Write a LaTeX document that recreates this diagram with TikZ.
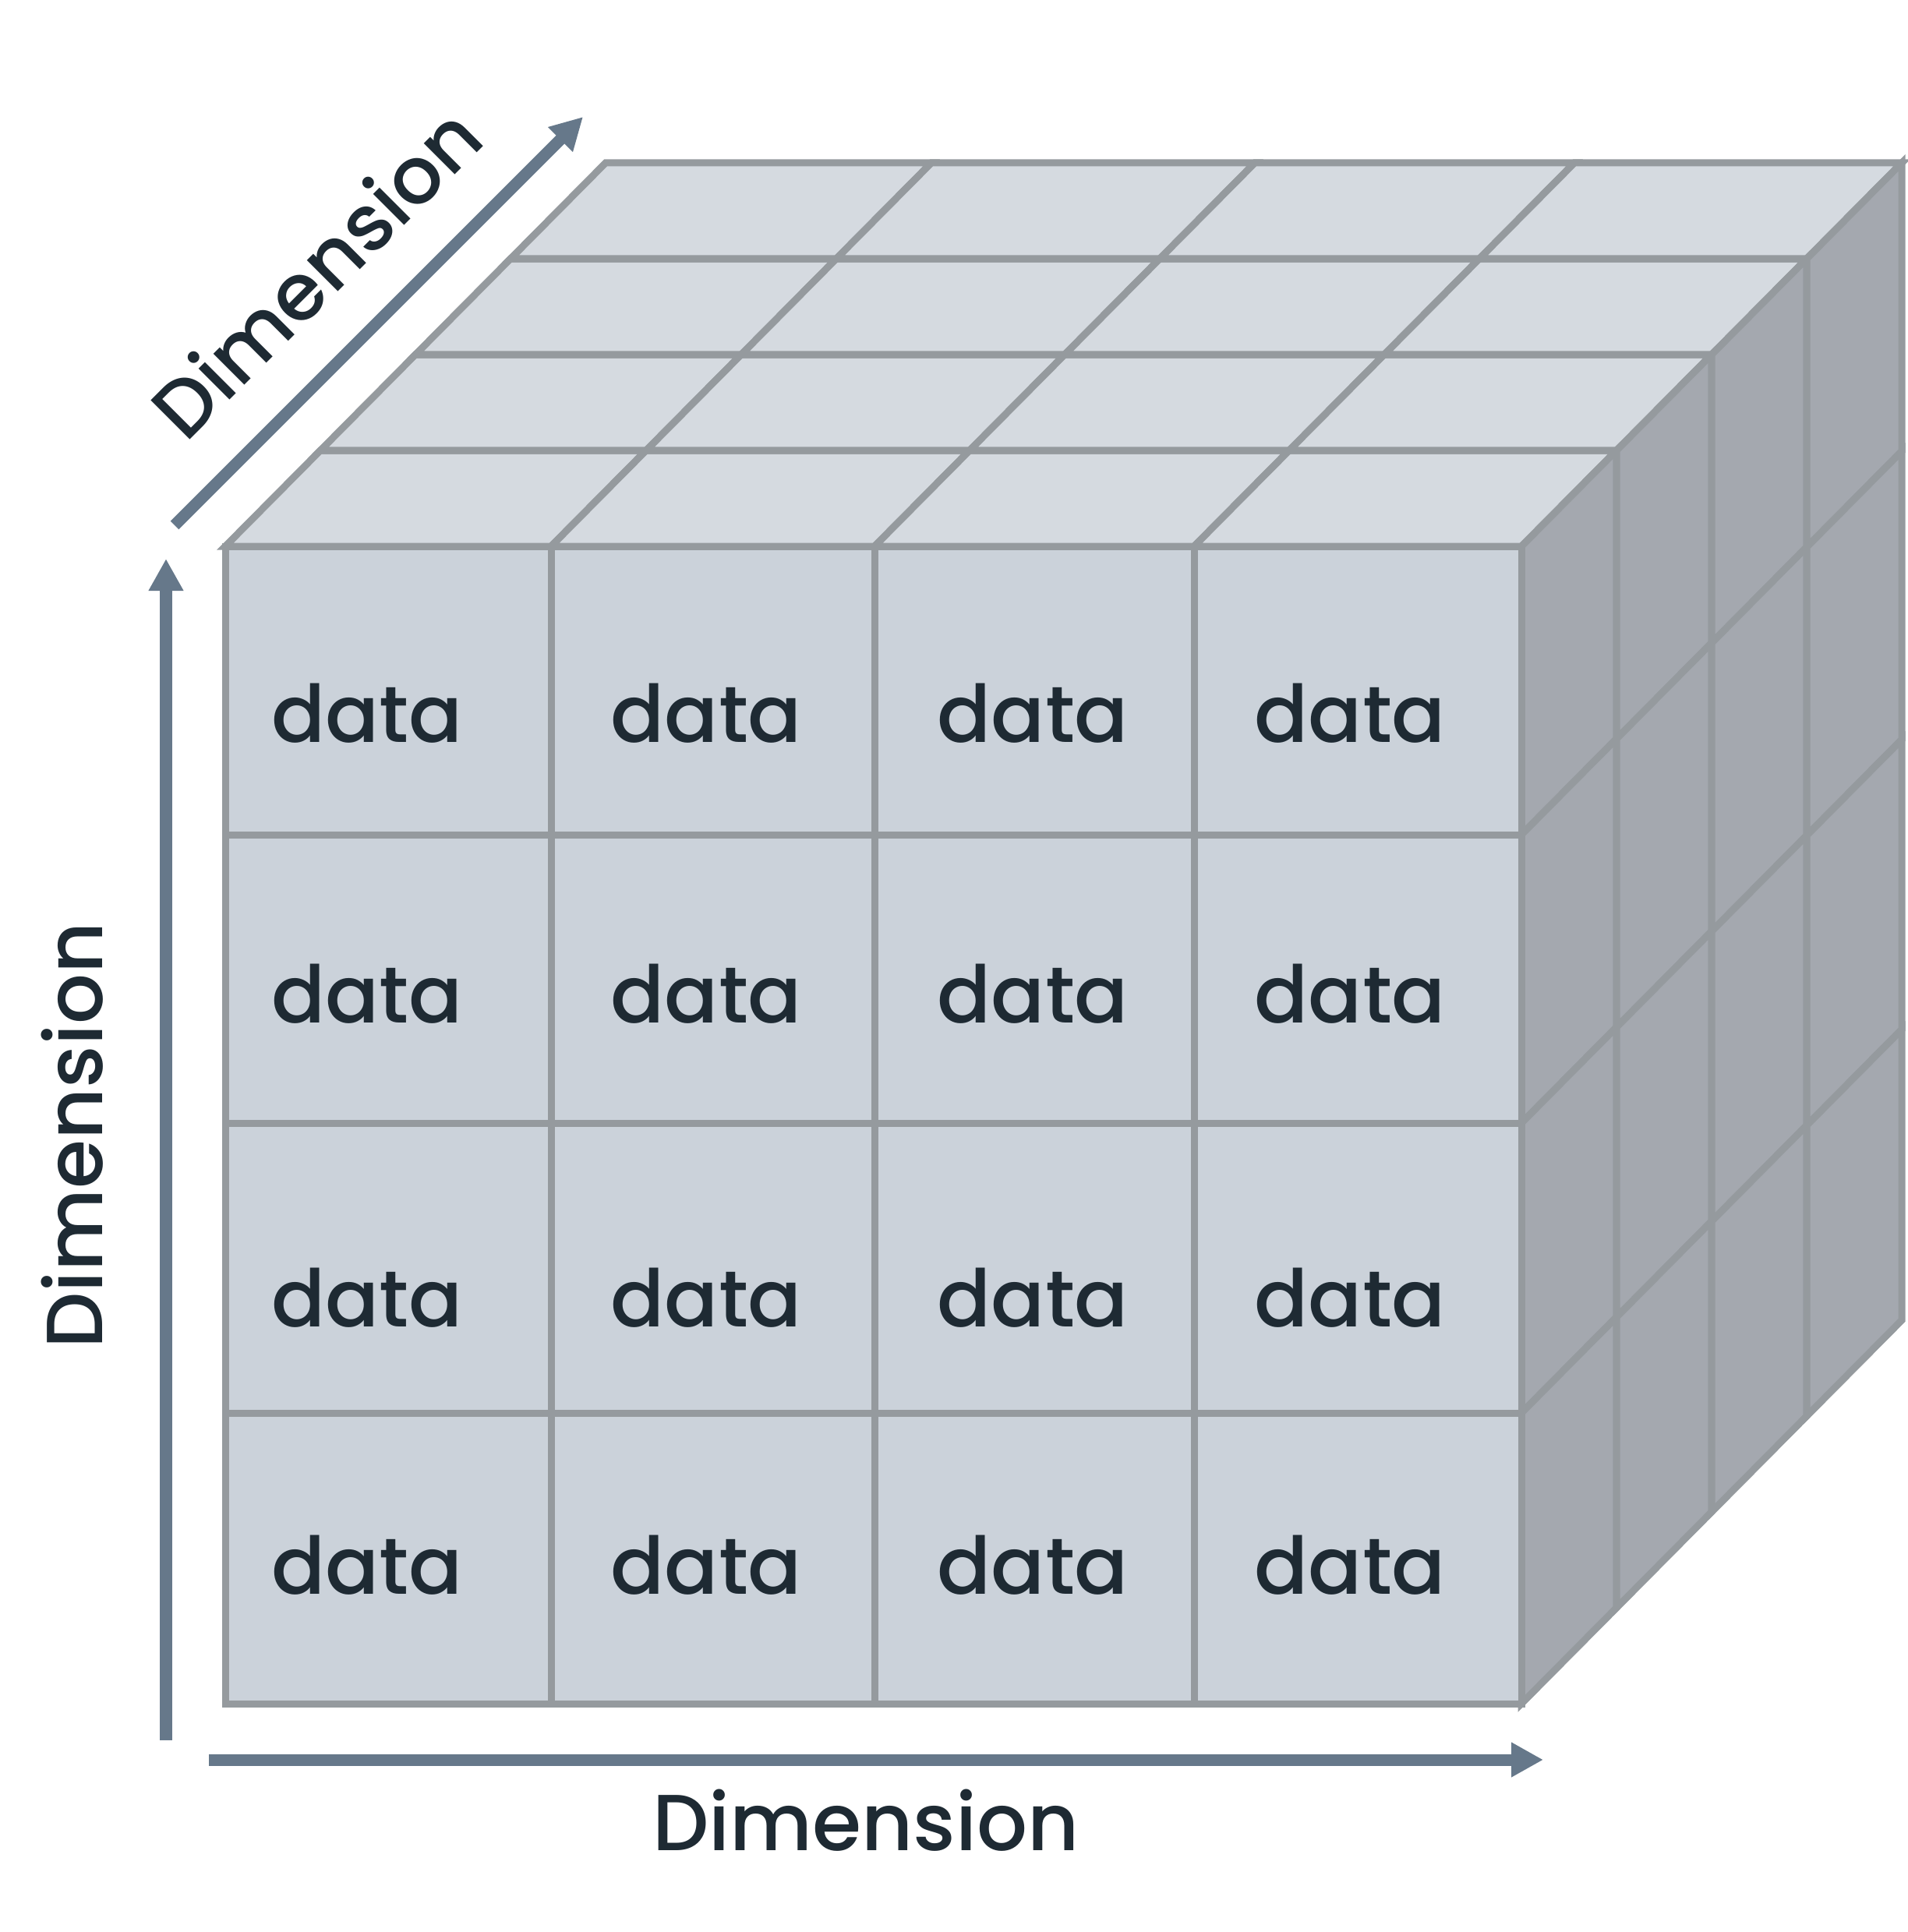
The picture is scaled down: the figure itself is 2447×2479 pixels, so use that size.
\documentclass[tikz,border=0pt]{standalone}
\usepackage{fontspec}
\setmainfont{Poppins Medium}
\usetikzlibrary{arrows.meta}
\definecolor{frontfill}{HTML}{CBD2DA}
\definecolor{topfill}{HTML}{D5DAE0}
\definecolor{sidefill}{HTML}{A4A8AF}
\definecolor{gridline}{HTML}{959A9E}
\definecolor{axiscol}{HTML}{66788A}
\definecolor{txtcol}{HTML}{1E2A33}
\begin{document}
\begin{tikzpicture}[x=0.01cm,y=-0.01cm,
  cellline/.style={draw=gridline,line width=0.09cm,line join=miter},
  topface/.style={cellline,fill=topfill},
  sideface/.style={cellline,fill=sidefill},
  frontface/.style={cellline,fill=frontfill},
  datatext/.style={anchor=base west,inner sep=0pt,text=txtcol,font=\fontsize{29}{35}\selectfont},
  dimlabel/.style={anchor=base,inner sep=0pt,text=txtcol,font=\fontsize{29}{35}\selectfont},
  axis/.style={draw=axiscol,line width=0.15cm,-{Triangle[length=0.41cm,width=0.42cm]}}]
\useasboundingbox (0,0) rectangle (2447,2479);
% top face
\foreach \k in {0,...,3} {
  \foreach \xa/\xb in {289/707,707/1122,1122/1532,1532/1952} {
    \path[topface] ({\xa+122*\k},{701-123*\k}) -- ({\xb+122*\k},{701-123*\k})
      -- ({\xb+122*(\k+1)},{701-123*(\k+1)}) -- ({\xa+122*(\k+1)},{701-123*(\k+1)}) -- cycle;
  }
}
% right side face
\foreach \k in {0,...,3} {
  \foreach \ya/\yb in {701/1071,1071/1441,1441/1813,1813/2186} {
    \path[sideface] ({1952+122*\k},{\ya-123*\k}) -- ({1952+122*(\k+1)},{\ya-123*(\k+1)})
      -- ({1952+122*(\k+1)},{\yb-123*(\k+1)}) -- ({1952+122*\k},{\yb-123*\k}) -- cycle;
  }
}
% front face
\foreach \xa/\xb in {289/707,707/1122,1122/1532,1532/1952} {
  \foreach \ya/\yb in {701/1071,1071/1441,1441/1813,1813/2186} {
    \path[frontface] (\xa,\ya) rectangle (\xb,\yb);
  }
}
% data labels
\foreach \c/\x in {1/348,2/783,3/1202,4/1609} {
  \foreach \r/\y in {1/952,2/1312,3/1702,4/2045} {
    \node[datatext] (d\r\c) at (\x,\y) {data};
  }
}
% axes
\coordinate (yfrom) at (213,2233);
\coordinate (yto) at (213,717);
\coordinate (xfrom) at (268,2258);
\coordinate (xto) at (1980,2258);
\coordinate (zfrom) at (224,674);
\coordinate (zto) at (748,150);
\draw[axis] (yfrom) -- (yto);
\draw[axis] (xfrom) -- (xto);
\draw[axis] (zfrom) -- (zto);
% axis labels
\node[dimlabel] (lblx) at (1111,2374) {Dimension};
\node[dimlabel,rotate=90] (lbly) at (131,1457) {Dimension};
\node[dimlabel,rotate=45] (lblz) at (432,376) {Dimension};
\end{tikzpicture}
\end{document}
